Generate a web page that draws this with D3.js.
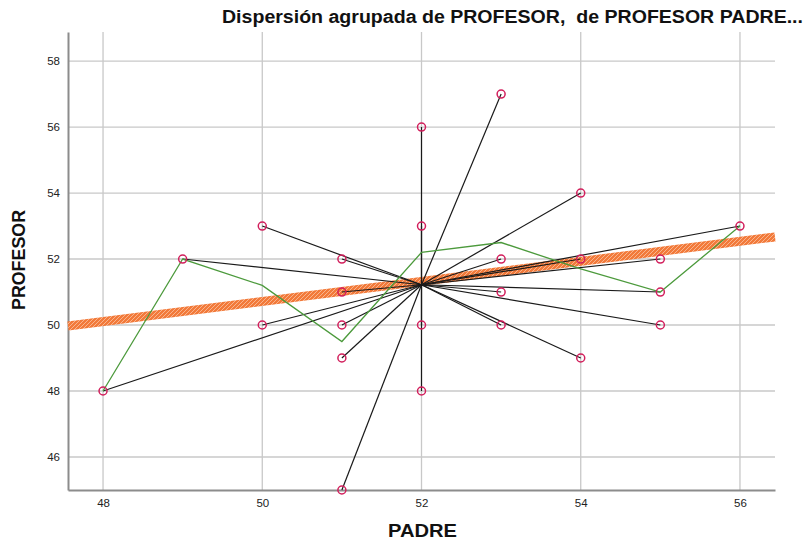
<!DOCTYPE html>
<html>
<head>
<meta charset="utf-8">
<script src="https://cdn.jsdelivr.net/npm/d3@7"></script>
<style>
  body { margin: 0; background: #fff; }
  text { font-family: "Liberation Sans", Arial, sans-serif; }
</style>
</head>
<body>
<script>
// observed points (PADRE, PROFESOR)
const padre    = [48, 49, 50, 50, 51, 51, 51, 51, 51, 52, 52, 52, 52, 53, 53, 53, 53, 54, 54, 54, 55, 55, 55, 56];
const profesor = [48, 52, 53, 50, 52, 51, 50, 49, 45, 56, 53, 50, 48, 57, 52, 51, 50, 54, 52, 49, 52, 51, 50, 53];

// centroid that the spikes go to
const centroid = [52, 51.22];

// green smoother
const smoothX = [48, 49, 50, 51, 52, 53, 54, 55, 56];
const smoothY = [48, 52, 51.2, 49.5, 52.2, 52.5, 51.7, 51, 53];

// linear fit end points
const fitX = [47.56, 56.44];
const fitY = [49.97, 52.67];

const xTicks = [48, 50, 52, 54, 56];
const yTicks = [46, 48, 50, 52, 54, 56, 58];

const w = 808, h = 546;
const m = {left: 68, right: 33, top: 32, bottom: 56};

const svg = d3.select('body').append('svg')
    .attr('width', w)
    .attr('height', h);

const x = d3.scaleLinear().domain([47.56, 56.44]).range([m.left, w - m.right]);
const y = d3.scaleLinear().domain([45, 58.88]).range([h - m.bottom, m.top]);

// grid
svg.append('g')
    .selectAll('line')
    .data(xTicks)
    .join('line')
    .attr('x1', d => x(d)).attr('x2', d => x(d))
    .attr('y1', m.top).attr('y2', h - m.bottom)
    .attr('stroke', '#c8c8c8').attr('stroke-width', 1.3);

svg.append('g')
    .selectAll('line')
    .data(yTicks)
    .join('line')
    .attr('x1', m.left).attr('x2', w - m.right)
    .attr('y1', d => y(d)).attr('y2', d => y(d))
    .attr('stroke', '#c8c8c8').attr('stroke-width', 1.3);

// axes
const xAxis = svg.append('g')
    .attr('transform', `translate(0,${h - m.bottom})`)
    .call(d3.axisBottom(x).tickValues(xTicks).tickSize(0).tickPadding(9));
const yAxis = svg.append('g')
    .attr('transform', `translate(${m.left},0)`)
    .call(d3.axisLeft(y).tickValues(yTicks).tickSize(0).tickPadding(8));

[xAxis, yAxis].forEach(a => {
  a.select('.domain').attr('stroke', '#8c8c8c').attr('stroke-width', 2);
  a.selectAll('text').attr('font-size', 11.5).attr('fill', '#222')
    .attr('font-family', '"Liberation Sans", Arial, sans-serif');
});

// fit line (thick hatched orange band)
const defs = svg.append('defs');
const pat = defs.append('pattern')
    .attr('id', 'hatch')
    .attr('patternUnits', 'userSpaceOnUse')
    .attr('width', 4).attr('height', 4);
pat.append('rect').attr('width', 4).attr('height', 4).attr('fill', '#f27a3a');
pat.append('path').attr('d', 'M0,4 L4,0').attr('stroke', '#f9b48e').attr('stroke-width', 1);

const fitLine = d3.line().x(d => x(d[0])).y(d => y(d[1]));
const fitData = fitX.map((v, i) => [v, fitY[i]]);
svg.append('path')
    .datum(fitData)
    .attr('d', fitLine)
    .attr('stroke', 'url(#hatch)')
    .attr('stroke-width', 9)
    .attr('fill', 'none');

// spikes to centroid
const pts = padre.map((v, i) => [v, profesor[i]]);
svg.append('g')
    .selectAll('line')
    .data(pts)
    .join('line')
    .attr('x1', d => x(d[0])).attr('y1', d => y(d[1]))
    .attr('x2', x(centroid[0])).attr('y2', y(centroid[1]))
    .attr('stroke', '#1a1a1a').attr('stroke-width', 1.2);

// smoother
svg.append('path')
    .datum(smoothX.map((v, i) => [v, smoothY[i]]))
    .attr('d', d3.line().x(d => x(d[0])).y(d => y(d[1])))
    .attr('stroke', '#4c9a3c').attr('stroke-width', 1.3)
    .attr('fill', 'none');

// markers
svg.append('g')
    .selectAll('circle')
    .data(pts)
    .join('circle')
    .attr('cx', d => x(d[0]))
    .attr('cy', d => y(d[1]))
    .attr('r', 4)
    .attr('fill', 'none')
    .attr('stroke', '#d21f5c')
    .attr('stroke-width', 1.5);

// title and labels
svg.append('text')
    .attr('x', 222).attr('y', 23)
    .attr('font-size', 17.5).attr('font-weight', 'bold')
    .attr('textLength', 581).attr('lengthAdjust', 'spacingAndGlyphs')
    .attr('fill', '#111')
    .style('white-space', 'pre')
    .text('Dispersión agrupada de PROFESOR,  de PROFESOR PADRE...');

svg.append('text')
    .attr('x', 388).attr('y', 537)
    .attr('font-size', 18).attr('font-weight', 'bold')
    .attr('textLength', 69).attr('lengthAdjust', 'spacingAndGlyphs')
    .attr('fill', '#111')
    .text('PADRE');

svg.append('text')
    .attr('transform', `translate(25,310) rotate(-90)`)
    .attr('font-size', 18).attr('font-weight', 'bold')
    .attr('textLength', 100).attr('lengthAdjust', 'spacingAndGlyphs')
    .attr('fill', '#111')
    .text('PROFESOR');
</script>
</body>
</html>
